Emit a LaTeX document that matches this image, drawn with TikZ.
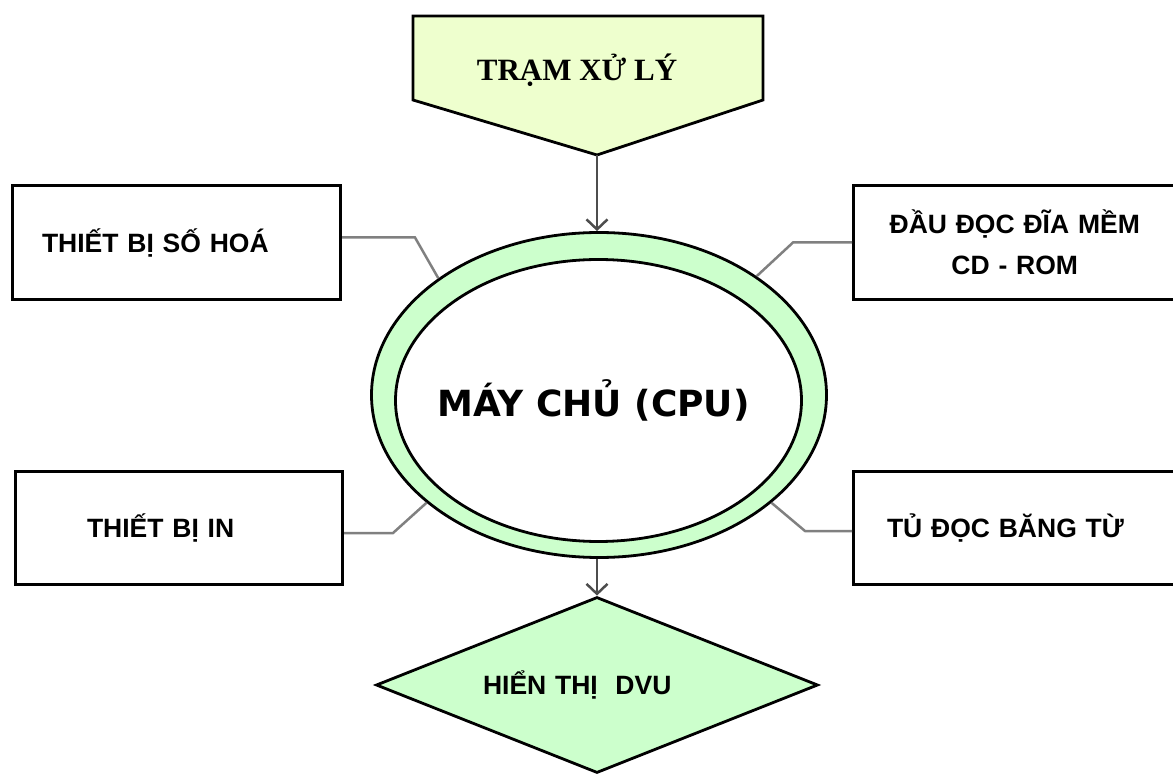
\documentclass[tikz,border=0pt]{standalone}
\usepackage{fontspec}
\usetikzlibrary{shapes.geometric,arrows.meta}
\newfontfamily\boxfont{Liberation Sans}
\newfontfamily\serfont{Liberation Serif}
\newfontfamily\cpufont{DejaVu Sans}

\begin{document}
\begin{tikzpicture}[x=1pt,y=-1pt,
    devbox/.style={shape=rectangle,draw,line width=3pt,font=\boxfont\bfseries\fontsize{26.5}{41}\selectfont},
    wire/.style={draw=wire_grey,line width=2.5pt},
    arr/.style={draw=arr_grey,line width=2.5pt,-{Straight Barb[length=10pt,width=21pt]}}]
    \definecolor{ring_green}{RGB}{204,255,204}
    \definecolor{tram_fill}{RGB}{238,255,206}
    \definecolor{wire_grey}{RGB}{128,128,128}
    \definecolor{arr_grey}{RGB}{77,77,77}
    \useasboundingbox (0,0) rectangle (1173,775);
    \clip (0,0) rectangle (1173,775);
    % tram xu ly
    \draw[line width=2.8pt,fill=tram_fill] (413,16) -- (763,16) -- (763,100) -- (597,155) -- (413,100) -- cycle;
    \coordinate (tram_tip) at (597,155);
    \node (tram) at (577,70) {\serfont\bfseries\fontsize{31}{36}\selectfont TRẠM XỬ LÝ};
    % may chu
    \node[shape=ellipse,draw,line width=2.8pt,fill=ring_green,minimum width=455pt,minimum height=325pt] (cpu) at (599,395) {};
    \node[shape=ellipse,draw,line width=2.8pt,fill=white,minimum width=406pt,minimum height=282pt,font=\cpufont\bfseries\fontsize{36}{42}\selectfont] (cpu_in) at (598.5,400.5) {\makebox[0pt]{\hspace*{-10pt}MÁY CHỦ (CPU)}};
    % thiet bi
    \node[devbox,inner xsep=29.5pt,text width=269pt,align=left,minimum height=114pt] (sohoa) at (176.5,242.5) {THIẾT BỊ SỐ HOÁ};
    \node[devbox,inner xsep=26.5pt,text width=269.5pt,align=center,minimum height=114pt] (docdia) at (1014.75,242.5) {ĐẦU ĐỌC ĐĨA MỀM\\CD - ROM};
    \node[devbox,inner xsep=71.5pt,text width=184pt,align=left,minimum height=113pt] (inan) at (179,528) {THIẾT BỊ IN};
    \node[devbox,inner xsep=33.5pt,text width=255.5pt,align=left,minimum height=113pt] (docbang) at (1014.75,528) {TỦ ĐỌC BĂNG TỪ};
    % hien thi
    \node[shape=diamond,draw,line width=2.8pt,fill=ring_green,aspect=2.5,minimum width=442pt,minimum height=176pt,text width=228pt,align=left,inner sep=0pt,font=\boxfont\bfseries\fontsize{26.5}{32}\selectfont] (dvu) at (597,685) {HIỂN THỊ\ \ DVU};
    % noi
    \draw[wire] ([yshift=5pt]sohoa.east) -- ++(73,0) -- (cpu.144);
    \draw[wire] (docdia.west) -- ++(-59,0) -- (cpu.37);
    \draw[wire] ([yshift=-5pt]inan.east) -- ++(49,0) -- (cpu.212);
    \draw[wire] ([yshift=-3pt]docbang.west) -- ++(-47,0) -- (cpu.-32);
    \draw[arr] (tram_tip) -- (tram_tip |- cpu.north);
    \draw[arr] (dvu.north |- cpu.south) -- (dvu.north);
\end{tikzpicture}
\end{document}
